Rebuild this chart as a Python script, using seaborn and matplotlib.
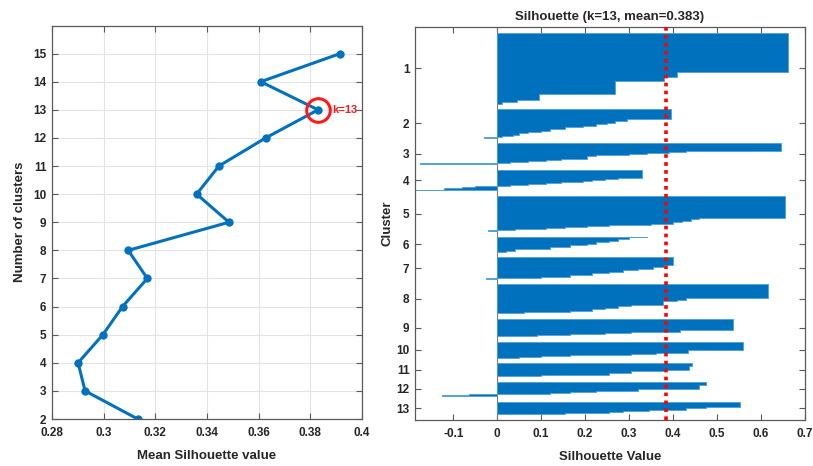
import numpy as np
import pandas as pd
import matplotlib
matplotlib.use("Agg")
import matplotlib.pyplot as plt
import seaborn as sns

# ---------------- data ----------------
k_values = [2, 3, 4, 5, 6, 7, 8, 9, 10, 11, 12, 13, 14, 15]
mean_silhouette = [0.3132, 0.2928, 0.2901, 0.2997, 0.3073, 0.3169, 0.3095,
                   0.3485, 0.3360, 0.3446, 0.3627, 0.3830, 0.3608, 0.3915]

best_k = 13
overall_mean = 0.383

# silhouette values per cluster (descending step values and point counts)
c1_vals = [0.661, 0.41, 0.38, 0.267, 0.095, 0.046, 0.01]
c1_counts = [50, 6, 5, 16, 8, 2, 2]
c2_vals = [0.395, 0.305, 0.295, 0.267, 0.25, 0.225, 0.195, 0.155, 0.12, 0.10, 0.07, 0.05, 0.035, 0.01, -0.03]
c2_counts = [12, 1, 2, 2, 2, 2, 2, 2, 2, 2, 1, 2, 2, 1, 1]
c3_vals = [0.645, 0.47, 0.43, 0.39, 0.34, 0.30, 0.255, 0.225, 0.205, 0.175, 0.145, 0.11, 0.07, 0.03, -0.095, -0.175]
c3_counts = [9, 1, 1, 1, 1, 1, 1, 1, 3, 1, 1, 1, 1, 1, 1, 1]
c4_vals = [0.33, 0.305, 0.275, 0.245, 0.215, 0.195, 0.175, 0.145, 0.11, 0.07, 0.03, -0.02, -0.05, -0.08, -0.12, -0.19]
c4_counts = [10, 1, 1, 1, 1, 1, 1, 1, 1, 1, 1, 1, 1, 1, 2, 1]
c5_vals = [0.655, 0.46, 0.44, 0.42, 0.40, 0.35, 0.30, 0.255, 0.205, 0.155, 0.11, 0.07, 0.04, -0.02]
c5_counts = [28, 1, 2, 2, 2, 1, 1, 1, 1, 1, 1, 1, 1, 1]
c6_vals = [0.34, 0.30, 0.275, 0.255, 0.225, 0.205, 0.165, 0.12, 0.08, 0.04, 0.02]
c6_counts = [1, 2, 2, 2, 2, 2, 2, 2, 1, 2, 1]
c7_vals = [0.40, 0.38, 0.355, 0.32, 0.285, 0.255, 0.215, 0.165, 0.10, -0.025]
c7_counts = [9, 3, 2, 2, 2, 2, 2, 2, 2, 1]
c8_vals = [0.615, 0.43, 0.41, 0.378, 0.305, 0.275, 0.245, 0.215, 0.165, 0.12, 0.06]
c8_counts = [17, 2, 2, 5, 1, 2, 2, 2, 1, 1, 1]
c9_vals = [0.537, 0.415, 0.37, 0.305, 0.245, 0.165, 0.09, 0.04]
c9_counts = [14, 2, 1, 1, 1, 1, 1, 1]
c10_vals = [0.558, 0.435, 0.36, 0.305, 0.235, 0.165, 0.10, 0.05]
c10_counts = [10, 4, 1, 1, 1, 1, 1, 1]
c11_vals = [0.442, 0.436, 0.38, 0.345, 0.305, 0.255, 0.185, 0.10]
c11_counts = [3, 5, 1, 1, 2, 2, 1, 1]
c12_vals = [0.475, 0.46, 0.32, 0.265, 0.225, 0.165, 0.12, 0.06, -0.065, -0.125]
c12_counts = [4, 5, 2, 1, 1, 1, 1, 1, 1, 1]
c13_vals = [0.552, 0.475, 0.43, 0.38, 0.345, 0.285, 0.255, 0.155, 0.08]
c13_counts = [7, 1, 2, 1, 1, 1, 1, 1, 1]

cluster_vals = [c1_vals, c2_vals, c3_vals, c4_vals, c5_vals, c6_vals, c7_vals,
                c8_vals, c9_vals, c10_vals, c11_vals, c12_vals, c13_vals]
cluster_counts = [c1_counts, c2_counts, c3_counts, c4_counts, c5_counts, c6_counts,
                  c7_counts, c8_counts, c9_counts, c10_counts, c11_counts,
                  c12_counts, c13_counts]
cluster_labels = [str(i) for i in range(1, 14)]

# ---------------- style ----------------
sns.set_style("ticks")
plt.rcParams["font.family"] = ["Liberation Sans", "DejaVu Sans"]
plt.rcParams["font.weight"] = "bold"
plt.rcParams["axes.labelweight"] = "bold"
plt.rcParams["axes.titleweight"] = "bold"

TXT = "#262626"
SPINE = "#5a5a5a"
BLUE = "#0072BD"

W, H = 813, 466
fig = plt.figure(figsize=(W / 100, H / 100), dpi=100)
fig.patch.set_facecolor("white")


def px_axes(l, t, r, b):
    return fig.add_axes([l / W, 1 - b / H, (r - l) / W, (b - t) / H])


def style_axes(ax):
    for s in ax.spines.values():
        s.set_color(SPINE)
        s.set_linewidth(0.9)
    ax.tick_params(direction="in", length=4, width=0.8, color=SPINE,
                   labelsize=8.5, labelcolor=TXT, top=True, right=True)
    ax.tick_params(axis="x", pad=6)
    ax.tick_params(axis="y", pad=4)
    for lab in ax.get_xticklabels() + ax.get_yticklabels():
        lab.set_fontweight("bold")


# ---------------- left panel ----------------
ax1 = px_axes(52, 25.5, 362, 419)
df1 = pd.DataFrame({"mean": mean_silhouette, "k": k_values})
sns.lineplot(data=df1, x="mean", y="k", sort=False, estimator=None, ax=ax1,
             color=BLUE, lw=2.2, marker="o", markersize=6, markeredgewidth=0)
ax1.set_xlim(0.28, 0.40)
ax1.set_ylim(2, 16)
ax1.set_xticks(np.round(np.arange(0.28, 0.401, 0.02), 2))
ax1.set_xticklabels(["0.28", "0.3", "0.32", "0.34", "0.36", "0.38", "0.4"])
ax1.set_yticks(k_values)
ax1.grid(True, color="#e3e3e3", lw=0.8)
ax1.set_axisbelow(True)
ax1.set_xlabel("Mean Silhouette value", fontsize=9.5, color=TXT, labelpad=8)
ax1.set_ylabel("Number of clusters", fontsize=9.5, color=TXT, labelpad=5)
style_axes(ax1)

bi = k_values.index(best_k)
ax1.plot([mean_silhouette[bi]], [k_values[bi]], marker="o", markersize=17,
         fillstyle="none", markeredgecolor="#ff1a1a", markeredgewidth=2.2,
         linestyle="none", zorder=5)
ax1.annotate(f"k={best_k}", xy=(mean_silhouette[bi], k_values[bi]),
             xytext=(10.5, 0), textcoords="offset points", va="center",
             ha="left", color="#ff1a1a", fontsize=8, fontweight="bold")

# ---------------- right panel ----------------
ax2 = px_axes(415, 27, 805, 420)
gap = 7
centers = []
cursor = gap
for vals, cnts in zip(cluster_vals, cluster_counts):
    edges = cursor + np.concatenate([[0], np.cumsum(cnts)])
    xs = np.concatenate([vals, [vals[-1]]])
    ax2.fill_betweenx(edges, 0, xs, step="post", facecolor=BLUE,
                      edgecolor="#4f9fd8", linewidth=0.6, zorder=2)
    n = int(np.sum(cnts))
    centers.append(cursor + n / 2)
    cursor += n + gap
total = cursor

ax2.axvline(overall_mean, color="#ff0000", ls=(0, (1, 1.2)), lw=2.6, zorder=5)
ax2.set_xlim(-0.187, 0.70)
ax2.set_ylim(total, 0)
ax2.set_xticks([-0.1, 0, 0.1, 0.2, 0.3, 0.4, 0.5, 0.6, 0.7])
ax2.set_xticklabels(["-0.1", "0", "0.1", "0.2", "0.3", "0.4", "0.5", "0.6", "0.7"])
ax2.set_yticks(centers)
ax2.set_yticklabels(cluster_labels)
ax2.axvline(0, color="#777777", lw=0.8, zorder=1)
ax2.set_xlabel("Silhouette Value", fontsize=9.5, color=TXT, labelpad=8)
ax2.set_ylabel("Cluster", fontsize=9.5, color=TXT, labelpad=2)
ax2.set_title(f"Silhouette (k={best_k}, mean={overall_mean:.3f})",
              fontsize=9.5, color=TXT, pad=5)
style_axes(ax2)

fig.savefig("out.png", dpi=100, facecolor="white")
